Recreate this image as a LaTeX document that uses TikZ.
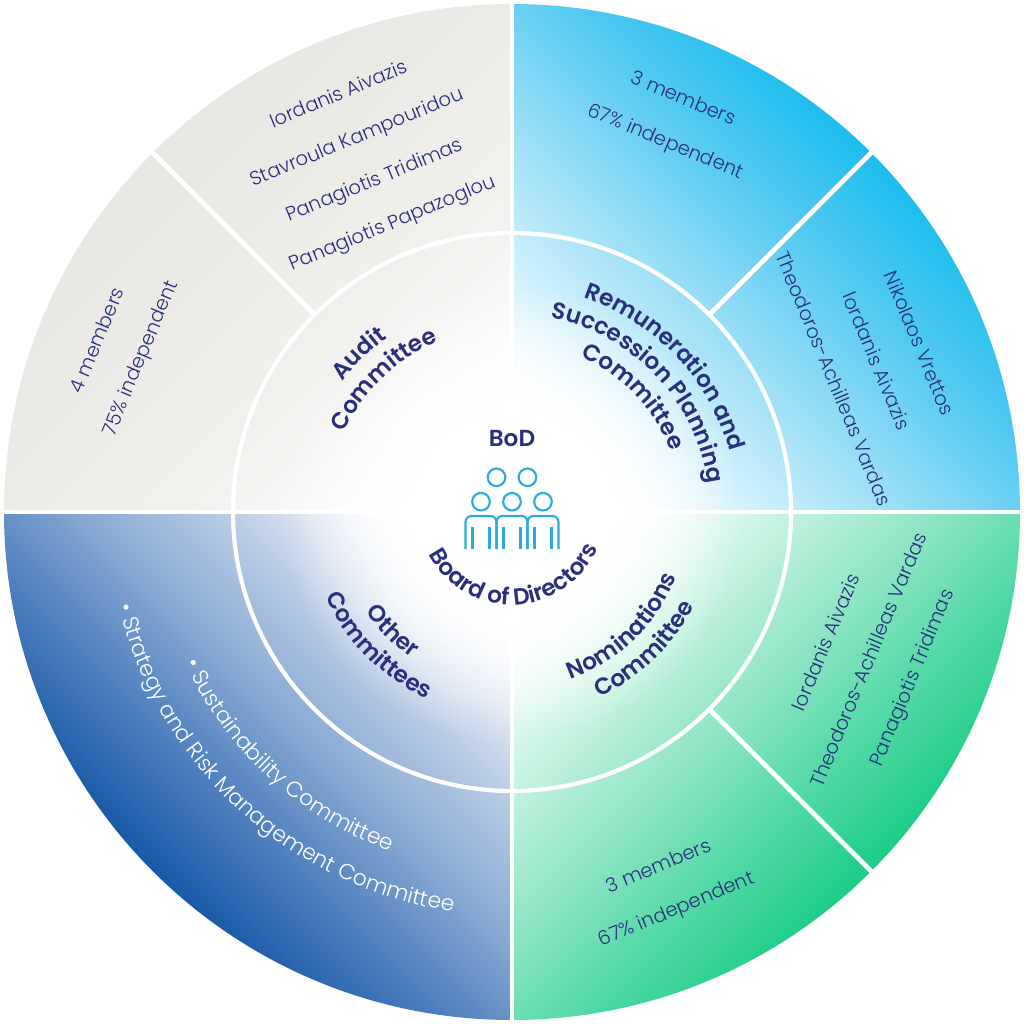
\documentclass[tikz,border=0pt]{standalone}
\usepackage{fontspec}
\setmainfont{Poppins}
\newfontfamily\lightfont{Poppins Light}
\newfontfamily\semifont{Poppins SemiBold}
\usetikzlibrary{decorations.text,fadings}

\definecolor{navy}{HTML}{2A307C}
\definecolor{iconblue}{HTML}{2CA9E1}
\definecolor{audA}{HTML}{F4F3F1}\definecolor{audB}{HTML}{EFEEEB}\definecolor{audC}{HTML}{ECEAE6}\definecolor{audD}{HTML}{E9E7E3}
\definecolor{remA}{HTML}{C4ECFA}\definecolor{remB}{HTML}{8EDAF5}\definecolor{remC}{HTML}{55CAF1}\definecolor{remD}{HTML}{1DBDEE}
\definecolor{nomA}{HTML}{C4F2E0}\definecolor{nomB}{HTML}{8FE5C5}\definecolor{nomC}{HTML}{56D9A9}\definecolor{nomD}{HTML}{1DCD86}
\definecolor{othA}{HTML}{BDCFE6}\definecolor{othB}{HTML}{8BABD4}\definecolor{othC}{HTML}{5282BF}\definecolor{othD}{HTML}{1A5AA7}

\pgfdeclareverticalshading{audshade}{100bp}{color(0bp)=(white); color(54bp)=(white); color(59.8bp)=(audA); color(64.8bp)=(audB); color(69.7bp)=(audC); color(75bp)=(audD); color(100bp)=(audD)}
\pgfdeclareverticalshading{remshade}{100bp}{color(0bp)=(white); color(54bp)=(white); color(59.8bp)=(remA); color(64.8bp)=(remB); color(69.7bp)=(remC); color(75bp)=(remD); color(100bp)=(remD)}
\pgfdeclareverticalshading{nomshade}{100bp}{color(0bp)=(white); color(54bp)=(white); color(59.8bp)=(nomA); color(64.8bp)=(nomB); color(69.7bp)=(nomC); color(75bp)=(nomD); color(100bp)=(nomD)}
\pgfdeclareverticalshading{othshade}{100bp}{color(0bp)=(white); color(54bp)=(white); color(59.8bp)=(othA); color(64.8bp)=(othB); color(69.7bp)=(othC); color(75bp)=(othD); color(100bp)=(othD)}
\pgfdeclareradialshading{corefade}{\pgfpointorigin}{color(0bp)=(pgftransparent!0); color(11bp)=(pgftransparent!0); color(25bp)=(pgftransparent!100); color(50bp)=(pgftransparent!100)}
\pgfdeclarefading{whitecore}{\pgfuseshading{corefade}}

\newcommand\labfont{\semifont\fontsize{6.6}{8}\selectfont}
\newcommand\bulletfont{\lightfont\fontsize{6.2}{7}\selectfont\color{white}}

\begin{document}
\begin{tikzpicture}[
  sep/.style={white, line width=1.4pt},
  ring/.style={white, line width=1.2pt},
  member/.style={text=navy, align=center, inner sep=0pt, font=\lightfont\fontsize{5.55}{13.2}\selectfont},
  icon/.style={iconblue, line width=0.6pt},
  label/.style={decorate, decoration={text along path, text align=center, text={|\labfont\color{navy}|#1}}},
  bullets/.style={decorate, decoration={text along path, text align=center, text={|\bulletfont|#1}}}
]
\useasboundingbox (-5.12,-5.12) rectangle (5.12,5.12);
\fill[white] (-5.12,-5.12) rectangle (5.12,5.12);

\begin{scope} \clip (0,0) -- (0:5.08) arc[start angle=0, end angle=90, radius=5.08] -- cycle; \shade[shading=remshade, shading angle=-45] (0,0) circle (5.08); \end{scope}
\begin{scope} \clip (0,0) -- (90:5.08) arc[start angle=90, end angle=180, radius=5.08] -- cycle; \shade[shading=audshade, shading angle=45] (0,0) circle (5.08); \end{scope}
\begin{scope} \clip (0,0) -- (180:5.08) arc[start angle=180, end angle=270, radius=5.08] -- cycle; \shade[shading=othshade, shading angle=135] (0,0) circle (5.08); \end{scope}
\begin{scope} \clip (0,0) -- (270:5.08) arc[start angle=270, end angle=360, radius=5.08] -- cycle; \shade[shading=nomshade, shading angle=225] (0,0) circle (5.08); \end{scope}
\fill[white, path fading=whitecore] (0,0) circle (2.3);

\draw[sep] (-5.1,0) -- (5.1,0); \draw[sep] (0,-5.1) -- (0,5.1);
\draw[ring] (0,0) circle (2.79);
\draw[sep] (45:2.79) -- (45:5.1); \draw[sep] (135:2.79) -- (135:5.1); \draw[sep] (-45:2.79) -- (-45:5.1);

\node[member, rotate=22.5] (audnames) at (112.5:3.81) {Iordanis Aivazis\\Stavroula Kampouridou\\Panagiotis Tridimas\\Panagiotis Papazoglou};
\node[member, rotate=67.5] (audcount) at (157.5:4.24) {4 members\\75\% independent};
\node[member, rotate=-22.5] (remcount) at (67.5:4.23) {3 members\\67\% independent};
\node[member, rotate=-67.5] (remnames) at (22.5:3.95) {Nikolaos Vrettos\\Iordanis Aivazis\\Theodoros-Achilleas Vardas};
\node[member, rotate=67.5] (nomnames) at (-22.5:3.88) {Iordanis Aivazis\\Theodoros-Achilleas Vardas\\Panagiotis Tridimas};
\node[member, rotate=22.5] (nomcount) at (-67.5:4.08) {3 members\\67\% independent};

\path[label=Audit] (194:2.14) arc[start angle=194, end angle=74, radius=2.14];
\path[label=Committee] (194:1.86) arc[start angle=194, end angle=74, radius=1.86];
\path[label=Remuneration and] (113.5:2.26) arc[start angle=113.5, end angle=-26.5, radius=2.26];
\path[label=Succession Planning] (113.5:1.98) arc[start angle=113.5, end angle=-26.5, radius=1.98];
\path[label=Committee] (113.5:1.70) arc[start angle=113.5, end angle=-26.5, radius=1.70];
\path[label=Nominations] (-106:1.77) arc[start angle=-106, end angle=14, radius=1.77];
\path[label=Committee] (-106:2.05) arc[start angle=-106, end angle=14, radius=2.05];
\path[label=Other] (165:1.77) arc[start angle=165, end angle=285, radius=1.77];
\path[label=Committees] (165:2.05) arc[start angle=165, end angle=285, radius=2.05];
\path[label=Board of Directors] (202:0.93) arc[start angle=202, end angle=342, radius=0.93];
\path[bullets=• Sustainability Committee] (147.5:3.60) arc[start angle=147.5, end angle=307.5, radius=3.60];
\path[bullets=• Strategy and Risk Management Committee] (147.5:4.04) arc[start angle=147.5, end angle=307.5, radius=4.04];

\node[text=navy, font=\labfont] (bod) at (0,0.73) {BoD};

\draw[icon] (-0.155,0.347) circle (0.088); \draw[icon] (0.155,0.347) circle (0.088);
\draw[icon] (-0.31,0.103) circle (0.088); \draw[icon] (0,0.103) circle (0.088); \draw[icon] (0.31,0.103) circle (0.088);
\draw[icon] (-0.465,-0.37) -- (-0.465,-0.10) arc[start angle=180, end angle=90, radius=0.06] -- (-0.215,-0.04) arc[start angle=90, end angle=0, radius=0.06] -- (-0.155,-0.37);
\draw[icon] (-0.155,-0.37) -- (-0.155,-0.10) arc[start angle=180, end angle=90, radius=0.06] -- (0.095,-0.04) arc[start angle=90, end angle=0, radius=0.06] -- (0.155,-0.37);
\draw[icon] (0.155,-0.37) -- (0.155,-0.10) arc[start angle=180, end angle=90, radius=0.06] -- (0.405,-0.04) arc[start angle=90, end angle=0, radius=0.06] -- (0.465,-0.37);
\draw[icon] (-0.395,-0.15) -- (-0.395,-0.37); \draw[icon] (-0.225,-0.15) -- (-0.225,-0.37);
\draw[icon] (-0.085,-0.15) -- (-0.085,-0.37); \draw[icon] (0.085,-0.15) -- (0.085,-0.37);
\draw[icon] (0.225,-0.15) -- (0.225,-0.37); \draw[icon] (0.395,-0.15) -- (0.395,-0.37);
\end{tikzpicture}
\end{document}
